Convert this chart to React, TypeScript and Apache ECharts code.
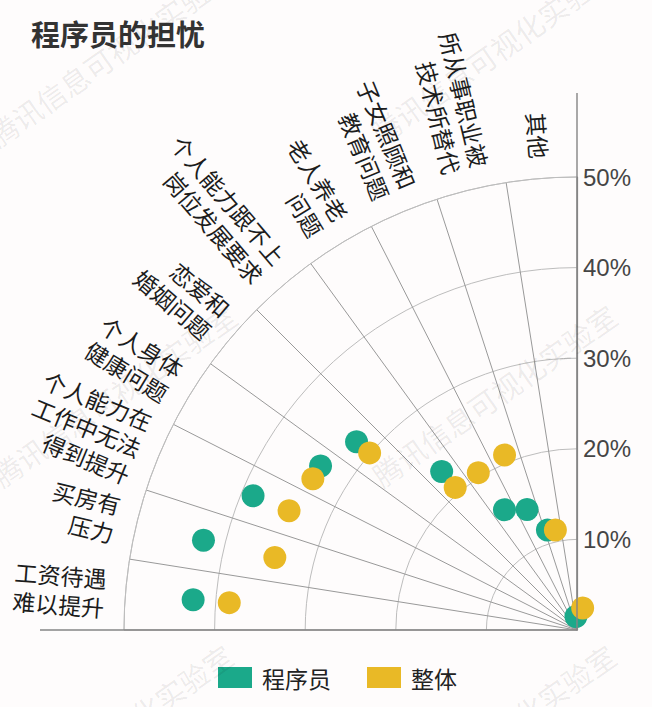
import React, { useEffect, useRef } from "react";
import * as echarts from "echarts";

const categories = [
  "工资待遇\n难以提升",
  "买房有\n压力",
  "个人能力在\n工作中无法\n得到提升",
  "个人身体\n健康问题",
  "恋爱和\n婚姻问题",
  "个人能力跟不上\n岗位发展要求",
  "老人养老\n问题",
  "子女照顾和\n教育问题",
  "所从事职业被\n技术所替代",
  "其他",
];
const programmerValues = [42.5, 42.4, 38.7, 33.6, 32.0, 23.0, 15.5, 14.4, 11.5, 1.5];
const overallValues = [38.5, 34.3, 34.4, 33.6, 30.1, 20.7, 20.5, 20.9, 11.3, 2.5];
const seriesNames = ["程序员", "整体"];
const radiusTicks = [0, 10, 20, 30, 40, 50];
const title = "程序员的担忧";
const watermark = "腾讯信息可视化实验室";

// style only: small angular dodge (degrees) so overlapping dots stay visible
const programmerDodge = [0, 0, 0, 1.1, 0, 0, 0.4, 0, -3, 0];
const overallDodge = [0, 0, 0, -1.7, 0, 0, -0.6, 0, 1.3, 19];

const FONT = "'Noto Sans CJK SC', 'Noto Sans', sans-serif";
const TEAL = "#1BA98A";
const YELLOW = "#E9B926";

export default function App() {
  const ref = useRef<HTMLDivElement>(null);
  useEffect(() => {
    if (!ref.current) return;
    const chart = echarts.init(ref.current, undefined, { renderer: "svg" });
    const cx = 577;
    const cy = 630;
    const R = 453;
    const rMax = radiusTicks[radiusTicks.length - 1];
    const n = categories.length;
    const angleData = categories.slice().reverse();
    const labelR = 473;
    const catLabels = categories.map((name, i) => {
      const deg = ((i + 0.5) * 90) / n;
      const rad = (deg * Math.PI) / 180;
      return {
        type: "text",
        x: cx - labelR * Math.cos(rad),
        y: cy - labelR * Math.sin(rad),
        rotation: -rad,
        silent: true,
        style: {
          text: name,
          align: "right",
          verticalAlign: "middle",
          fontFamily: FONT,
          fontSize: 23,
          lineHeight: 29,
          fill: "#1c1c1c",
        },
        z: 10,
      };
    });
    const dodgeOffset = (value: number, i: number, d: number) => {
      if (!d) return [0, 0];
      const r = (value / rMax) * R;
      const t = (((i + 0.5) * 90) / n) * (Math.PI / 180);
      const t2 = t + (d * Math.PI) / 180;
      return [-r * (Math.cos(t2) - Math.cos(t)), -r * (Math.sin(t2) - Math.sin(t))];
    };
    const wmStarts = [
      [-9, 138],
      [374, 135],
      [-5, 478],
      [375, 478],
      [-9, 818],
      [374, 818],
    ];
    const wms = wmStarts.map(([x, y]) => ({
      type: "text",
      x,
      y,
      rotation: (35 * Math.PI) / 180,
      silent: true,
      z: 100,
      style: {
        text: watermark,
        align: "left",
        verticalAlign: "middle",
        fontFamily: FONT,
        fontSize: 29,
        fill: "rgba(0,0,0,0.08)",
      },
    }));
    const axisColor = "#858585";
    const extend = 537;
    const makeData = (vals: number[], dodge: number[]) =>
      categories.map((c, i) => ({
        value: [vals[i], c],
        symbolOffset: dodgeOffset(vals[i], i, dodge[i]),
      }));
    chart.setOption({
      animation: false,
      backgroundColor: "#fefcfc",
      textStyle: { fontFamily: FONT },
      title: {
        text: title,
        left: 31,
        top: 18,
        padding: 0,
        textStyle: { fontSize: 29, fontWeight: "bold", color: "#333", fontFamily: FONT },
      },
      legend: {
        data: seriesNames,
        left: 213,
        top: 661,
        icon: "rect",
        itemWidth: 34,
        itemHeight: 21,
        itemGap: 36,
        textStyle: { fontSize: 23, color: "#222", padding: [0, 0, 0, 5], fontFamily: FONT },
      },
      polar: { center: [cx, cy], radius: R },
      angleAxis: {
        type: "category",
        data: angleData,
        startAngle: 90,
        endAngle: 180,
        clockwise: false,
        boundaryGap: true,
        axisLine: { show: true, lineStyle: { color: "#bdbdbd", width: 1 } },
        axisTick: { show: false, interval: 0 },
        axisLabel: { show: false, interval: 0 },
        splitLine: { show: true, interval: 0, lineStyle: { color: "#999", width: 1 } },
      },
      radiusAxis: {
        type: "value",
        min: radiusTicks[0],
        max: rMax,
        interval: radiusTicks[1] - radiusTicks[0],
        axisLine: { show: true, lineStyle: { color: axisColor, width: 1.2 } },
        axisTick: { show: false },
        axisLabel: {
          formatter: (v: number) => (v === 0 ? "" : v + "%"),
          color: "#454545",
          fontSize: 24,
          fontFamily: "'Liberation Sans', Arial, sans-serif",
          margin: -6,
          align: "left",
        },
        splitLine: { show: true, lineStyle: { color: "#bdbdbd", width: 1 } },
      },
      graphic: [
        {
          type: "polyline",
          silent: true,
          z: 50,
          shape: {
            points: [
              [cx - extend, cy],
              [cx, cy],
              [cx, cy - extend],
            ],
          },
          style: { stroke: axisColor, lineWidth: 1.4, fill: null },
        },
        ...catLabels,
        ...wms,
      ],
      series: [
        {
          name: seriesNames[0],
          type: "scatter",
          coordinateSystem: "polar",
          symbolSize: 23,
          itemStyle: { color: TEAL, opacity: 1 },
          data: makeData(programmerValues, programmerDodge),
          z: 3,
        },
        {
          name: seriesNames[1],
          type: "scatter",
          coordinateSystem: "polar",
          symbolSize: 23,
          itemStyle: { color: YELLOW, opacity: 1 },
          data: makeData(overallValues, overallDodge),
          z: 4,
        },
      ],
    });
    return () => chart.dispose();
  }, []);
  return (
    <div
      ref={ref}
      style={{ position: "absolute", left: 0, top: 0, width: 652, height: 707 }}
    />
  );
}
